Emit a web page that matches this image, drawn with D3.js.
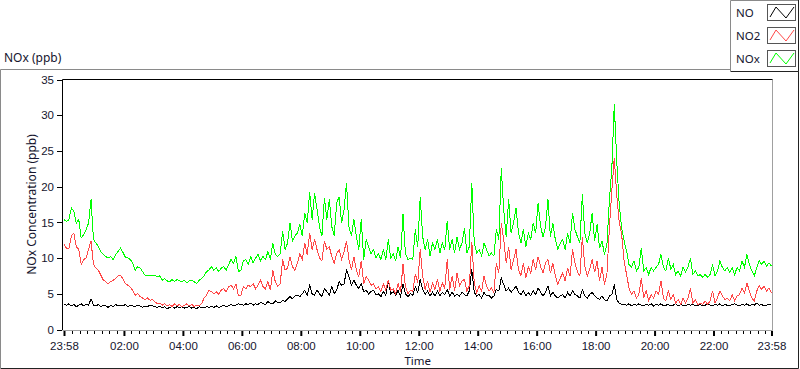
<!DOCTYPE html>
<html>
<head>
<meta charset="utf-8">
<script src="https://cdn.jsdelivr.net/npm/d3@7"></script>
<style>
  body { margin: 0; background: #fff; }
  svg { display: block; font-family: "Noto Sans", "Open Sans", sans-serif; }
  text { fill: #15152e; }
</style>
</head>
<body>
<svg id="chart" width="800" height="369"></svg>
<script>
// samples every 5 minutes, starting 23:58 (one row = one hour)
const STEP_MIN = 5;
const startTime = Date.UTC(2000, 0, 1, 23, 58);

const NO = [
  3.5,3.4,3.6,3.3,3.5,3.2,3.4,3.6,3.3,3.5,3.4,4.3,
  3.4,3.3,3.5,3.2,3.4,3.3,3.1,3.4,3.2,3.5,3.3,3.4,
  3.3,3.5,3.2,3.4,3.3,3.2,3.4,3.3,3.1,3.3,3.2,3.4,
  3.3,3.2,3.1,3.3,3.0,3.2,2.9,3.1,3.2,3.0,3.2,3.1,
  3.2,3.0,3.1,3.2,3.0,3.1,2.9,3.2,3.1,3.0,3.2,3.1,
  3.2,3.1,3.3,3.1,3.2,3.4,3.2,3.3,3.5,3.3,3.4,3.6,
  3.5,3.4,3.6,3.5,3.7,3.4,3.6,3.5,3.8,3.6,3.5,3.9,
  3.7,3.6,4.0,3.8,3.7,4.1,3.9,4.3,4.6,4.3,4.7,4.8,
  4.6,5.0,5.5,4.8,6.2,5.0,4.8,5.5,5.0,4.6,5.7,5.3,
  4.8,6.0,5.0,5.5,6.7,6.2,6.4,8.3,7.4,6.2,6.9,6.2,
  5.7,6.4,5.3,5.5,5.0,5.3,5.5,4.8,5.0,4.6,5.3,4.8,
  6.9,5.0,5.3,4.8,5.5,4.6,6.4,5.0,4.6,5.0,4.8,6.0,
  5.2,7.0,5.6,4.9,5.4,4.7,5.2,4.7,5.4,4.7,5.2,4.9,
  5.6,4.7,5.2,4.7,4.9,4.7,5.2,4.9,4.7,5.4,8.4,5.2,
  4.7,4.9,4.4,5.2,4.7,4.8,4.4,4.7,5.6,5.4,7.2,6.3,
  5.4,5.8,5.2,5.6,6.1,5.2,4.9,5.4,4.7,5.2,4.7,5.4,
  4.9,5.8,5.2,4.7,5.2,6.1,4.7,5.2,4.7,4.4,4.7,4.9,
  4.4,5.2,4.7,5.4,4.9,4.7,4.4,5.6,4.7,4.4,4.9,5.2,
  4.7,4.4,4.2,4.7,4.2,4.0,4.7,4.9,6.3,4.2,3.7,3.5,
  3.5,3.4,3.6,3.3,3.5,3.4,3.6,3.4,3.3,3.5,3.4,3.6,
  3.3,3.5,3.4,3.6,3.3,3.4,3.5,3.3,3.4,3.6,3.3,3.5,
  3.4,3.3,3.5,3.4,3.6,3.3,3.4,3.5,3.3,3.4,3.6,3.4,
  3.3,3.5,3.4,3.6,3.3,3.5,3.4,3.3,3.5,3.6,3.4,3.3,
  3.5,3.4,3.6,3.3,3.5,3.4,3.7,3.4,3.5,3.3,3.4,3.5,
  3.4
];

const NO2 = [
  11.9,11.4,11.3,13.1,13.5,11.6,11.2,9.1,9.8,10.0,11.2,12.4,
  9.1,8.6,8.3,7.6,6.9,6.7,6.4,6.7,6.9,7.1,7.5,7.6,
  7.1,6.4,6.2,5.9,5.5,4.8,5.0,4.6,4.4,4.2,4.4,4.1,
  4.2,3.9,3.6,3.7,3.4,3.6,3.3,3.5,3.2,3.6,3.3,3.5,
  3.2,3.4,3.6,3.3,3.5,3.2,3.4,3.3,3.6,4.4,4.8,5.5,
  5.3,5.0,5.3,4.9,5.5,5.7,5.3,6.0,6.2,5.7,6.4,4.7,
  4.8,6.0,5.7,6.2,6.0,6.4,5.7,6.2,6.9,6.0,5.7,6.7,
  5.5,8.3,6.7,6.0,6.4,9.8,8.3,8.6,10.2,8.8,8.3,9.3,
  10.6,9.8,12.1,10.5,13.5,11.2,12.6,11.2,10.0,9.6,12.4,11.2,
  11.6,10.2,9.3,10.6,11.2,9.8,10.9,12.4,9.8,8.3,10.2,8.3,
  7.4,9.6,6.4,7.4,6.9,6.2,6.4,5.7,6.0,5.3,6.4,5.5,
  6.9,5.5,5.7,5.0,6.4,5.3,9.1,6.0,5.0,5.5,5.3,7.8,
  6.5,11.2,7.5,5.6,6.8,5.2,6.5,5.6,7.0,5.4,6.5,5.8,
  9.8,5.6,7.5,5.4,7.9,6.1,6.8,7.0,5.4,6.1,12.3,6.5,
  5.2,6.1,5.4,7.5,6.1,5.4,5.8,5.2,9.3,7.9,14.9,12.6,
  9.3,11.6,8.4,9.8,11.2,8.4,7.5,9.3,7.2,8.8,7.9,9.8,
  8.4,10.2,8.8,7.9,9.3,9.8,7.9,9.3,7.5,6.3,7.2,7.9,
  6.8,8.6,7.5,11.2,9.3,8.1,7.5,13.0,8.8,7.5,8.4,9.8,
  8.0,9.6,6.8,8.7,6.3,7.7,14.2,19.4,24.0,18.9,15.1,13.3,
  9.6,7.7,5.8,4.9,5.4,4.4,4.9,7.2,4.4,5.4,4.0,4.9,
  4.4,5.4,4.9,6.8,4.4,4.0,5.4,4.2,4.9,3.7,4.2,3.5,
  4.4,3.7,4.4,5.8,3.7,4.2,3.5,3.7,3.5,4.0,3.5,4.0,
  5.4,3.7,4.4,5.4,4.7,4.2,4.4,4.0,4.9,4.0,4.7,4.9,
  5.8,5.1,6.5,5.4,4.4,4.0,5.4,6.1,5.6,6.1,5.4,5.8,
  5.1
];

const NOx = [
  15.4,15.1,15.4,17.0,16.6,14.9,15.4,12.8,13.3,14.0,14.9,18.2,
  12.6,12.1,11.6,10.9,10.5,10.2,10.0,10.2,9.8,10.5,10.9,11.4,
  10.8,10.1,10.0,9.8,9.3,8.3,8.8,8.6,8.1,7.6,7.5,7.6,
  7.5,7.6,7.4,7.5,6.9,7.1,6.8,6.7,7.0,6.7,7.0,6.8,
  6.7,6.9,6.5,6.8,6.9,6.7,6.4,6.9,7.1,7.5,8.1,8.3,
  8.8,8.3,8.6,8.1,8.6,8.8,8.3,9.1,9.8,9.3,10.2,8.1,
  8.3,9.6,9.8,9.1,10.2,9.3,10.0,10.5,9.6,10.2,9.8,10.9,
  9.8,12.1,10.5,10.2,10.6,13.8,11.2,12.1,14.9,12.4,13.1,13.5,
  14.7,13.1,16.3,14.9,19.3,15.4,19.1,16.8,14.4,13.1,18.4,15.4,
  18.2,14.4,13.1,17.7,18.6,14.9,16.8,20.5,14.4,13.1,15.4,13.1,
  11.2,15.4,9.8,12.6,11.6,10.6,11.2,10.0,10.6,9.8,11.2,9.8,
  12.6,10.0,10.6,9.6,11.6,10.0,16.1,10.6,9.8,10.0,9.8,14.0,
  11.6,18.6,13.0,11.2,12.6,10.3,12.1,11.2,12.6,10.7,12.1,11.2,
  15.2,11.2,12.6,10.7,13.0,11.2,12.1,14.2,10.7,11.6,20.5,12.1,
  10.7,11.2,10.3,12.1,11.2,10.3,10.7,10.3,14.0,12.6,22.6,16.8,
  13.0,18.2,13.5,14.9,17.0,13.5,12.1,14.0,11.6,13.5,12.6,14.9,
  13.5,17.7,14.4,13.0,14.4,18.2,13.0,14.9,12.6,11.2,12.1,12.6,
  11.2,13.5,12.1,16.3,14.0,13.0,12.1,18.9,13.5,12.1,13.5,16.3,
  12.4,14.7,11.4,12.4,10.5,11.9,18.0,22.5,31.5,23.6,17.5,14.2,
  12.4,11.0,9.1,8.7,9.6,8.2,8.7,11.4,8.2,8.7,7.7,8.7,
  8.2,8.7,9.1,10.5,8.7,8.2,10.0,8.5,9.1,7.7,8.2,7.5,
  8.7,8.0,8.7,10.0,7.7,8.2,7.5,7.7,7.3,7.7,7.3,7.7,
  9.1,7.5,8.2,9.6,8.7,8.2,8.7,8.0,8.7,7.7,8.7,8.2,
  9.6,8.7,10.5,9.1,8.2,7.5,8.7,9.6,9.1,9.6,8.9,9.3,
  8.9
];

const seriesNames = ['NO', 'NO2', 'NOx'];
const seriesColors = ['#000000', '#ff4848', '#00ff00'];
const yTicks = [0, 5, 10, 15, 20, 25, 30, 35];
const xTickHours = [2, 4, 6, 8, 10, 12, 14, 16, 18, 20, 22];

const svg = d3.select('#chart');
const W = 800, H = 369;
const plot = { left: 64, right: 771.5, top: 79.5, bottom: 329.5 };

const endTime = startTime + 24 * 3600 * 1000;
const x = d3.scaleUtc()
  .domain([new Date(startTime), new Date(endTime)])
  .range([plot.left, plot.right]);
const y = d3.scaleLinear()
  .domain([0, 35])
  .range([plot.bottom, plot.top]);

const timeAt = i => new Date(startTime + i * STEP_MIN * 60000);
const fmt = d3.utcFormat('%H:%M');

// outer frame
svg.append('rect').attr('width', W).attr('height', H).attr('fill', '#fff');
svg.append('path')
  .attr('d', `M0.5,${H - 1} V69.5 H798.5`)
  .attr('fill', 'none').attr('stroke', '#8a8a8a');
svg.append('path')
  .attr('d', `M798.5,69.5 V${H - 0.5} H0.5`)
  .attr('fill', 'none').attr('stroke', '#222');

svg.append('text')
  .attr('x', 4).attr('y', 62)
  .style('font-size', '12px')
  .text('NOx (ppb)');

// plot area borders
svg.append('path')
  .attr('d', `M772.5,79.5 V330.5 H62.5`)
  .attr('fill', 'none').attr('stroke', '#a0a0a0');
svg.append('path')
  .attr('d', `M62.5,330 V79.5 H772.5`)
  .attr('fill', 'none').attr('stroke', '#000');

// lines
const clip = svg.append('clipPath').attr('id', 'clip')
  .append('rect')
  .attr('x', 63).attr('y', 80)
  .attr('width', 709).attr('height', 250);

const line = d3.line()
  .x((d, i) => x(timeAt(i)))
  .y(d => y(d));

svg.append('g')
  .attr('clip-path', 'url(#clip)')
  .selectAll('path')
  .data([NO, NO2, NOx])
  .join('path')
  .attr('d', line)
  .attr('fill', 'none')
  .attr('stroke', (d, i) => seriesColors[i])
  .attr('stroke-width', 1)
  .attr('shape-rendering', 'crispEdges');

// y axis
const yAxis = d3.axisLeft(y)
  .tickValues(yTicks)
  .tickSize(5)
  .tickPadding(3);
const gy = svg.append('g')
  .attr('transform', 'translate(62,0)')
  .call(yAxis);
gy.select('.domain').remove();
gy.selectAll('line').attr('stroke', '#000').attr('shape-rendering', 'crispEdges');
gy.selectAll('text').style('font-size', '11.5px').attr('fill', '#15152e');

svg.append('text')
  .attr('transform', `translate(32,${(plot.top + plot.bottom) / 2}) rotate(-90)`)
  .attr('text-anchor', 'middle')
  .attr('dy', '0.35em')
  .style('font-size', '12px')
  .text('NOx Concentration (ppb)');

// x axis: labelled ticks at the ends and every two hours
const majorTicks = [new Date(startTime)]
  .concat(xTickHours.map(h => new Date(Date.UTC(2000, 0, 2, h, 0))))
  .concat([new Date(endTime)]);
const minorTicks = d3.utcMinute.every(15)
  .range(new Date(startTime), new Date(endTime))
  .filter(d => majorTicks.every(m => Math.abs(x(m) - x(d)) > 3));

const xAxis = d3.axisBottom(x)
  .tickValues(majorTicks)
  .tickFormat(fmt)
  .tickSize(5)
  .tickPadding(6);
const gx = svg.append('g')
  .attr('transform', 'translate(0,331)')
  .call(xAxis);
gx.select('.domain').remove();
gx.selectAll('line').attr('stroke', '#000').attr('stroke-width', 2);
gx.selectAll('text').style('font-size', '11.5px').attr('fill', '#15152e');

svg.append('g')
  .selectAll('line')
  .data(minorTicks)
  .join('line')
  .attr('x1', d => Math.round(x(d)) + 0.5)
  .attr('x2', d => Math.round(x(d)) + 0.5)
  .attr('y1', 331).attr('y2', 334)
  .attr('stroke', '#000');

svg.append('text')
  .attr('x', (plot.left + plot.right) / 2)
  .attr('y', 365)
  .attr('text-anchor', 'middle')
  .style('font-size', '11.5px')
  .text('Time');

// legend
const legend = svg.append('g');
legend.append('rect')
  .attr('x', 730.5).attr('y', 0.5)
  .attr('width', 68).attr('height', 71)
  .attr('fill', '#fff').attr('stroke', 'none');
legend.append('path')
  .attr('d', 'M730.5,71 V0.5 H798.5')
  .attr('fill', 'none').attr('stroke', '#8a8a8a');
legend.append('path')
  .attr('d', 'M798.5,0 V71.5 H730.5')
  .attr('fill', 'none').attr('stroke', '#222');

const item = legend.selectAll('g.item')
  .data(seriesNames)
  .join('g')
  .attr('class', 'item')
  .attr('transform', (d, i) => `translate(0,${i * 23})`);

item.append('text')
  .attr('x', 736).attr('y', 17)
  .style('font-size', '11.5px')
  .text(d => d);

item.append('rect')
  .attr('x', 767.5).attr('y', 4.5)
  .attr('width', 28).attr('height', 16)
  .attr('fill', '#fff')
  .attr('stroke', '#555');

item.append('polyline')
  .attr('points', '770,17 776,7 786,18 794,7')
  .attr('fill', 'none')
  .attr('stroke', (d, i) => seriesColors[i]);
</script>
</body>
</html>
